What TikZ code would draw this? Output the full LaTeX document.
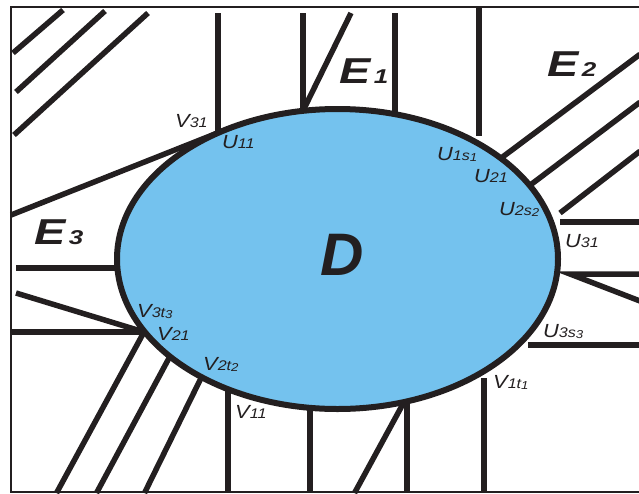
\documentclass[tikz,border=0pt]{standalone}
\usepackage{fontspec}
\newfontfamily\labf{Liberation Sans}[FakeStretch=1.15]
\newfontfamily\bigf{Liberation Sans}[FakeStretch=1.3]
\newfontfamily\dfont{Liberation Sans}
\definecolor{ink}{RGB}{35,31,32}
\definecolor{dblue}{RGB}{116,194,238}
\newcommand{\lsa}[1]{{\fontsize{14}{14}\selectfont #1}}
\newcommand{\lsb}[1]{\raisebox{-1.5pt}{\fontsize{11.5}{11.5}\selectfont #1}}
\newcommand{\lbs}[1]{{\fontsize{20}{20}\selectfont\,#1}}
\tikzset{
  wall/.style={line width=5.5pt, draw=ink},
  framel/.style={line width=2pt, draw=ink},
  region/.style={fill=dblue, draw=ink, line width=6pt},
  lab/.style={anchor=base west, inner sep=0pt, text=ink, font=\labf\itshape\fontsize{19}{19}\selectfont},
  biglab/.style={anchor=base west, inner sep=0pt, text=ink, font=\bigf\bfseries\itshape\fontsize{36}{36}\selectfont},
}
\begin{document}
\begin{tikzpicture}[x=1pt,y=-1pt]
\useasboundingbox (0,0) rectangle (639,493);
% frame
\draw[framel] (640,7) -- (11,7) -- (11,492) -- (640,492);
% named points
\coordinate (tl1a) at (13,53);   \coordinate (tl1b) at (63,10);
\coordinate (tl2a) at (16,92);   \coordinate (tl2b) at (105,11);
\coordinate (tl3a) at (14,135);  \coordinate (tl3b) at (148,13);
\coordinate (tanA) at (11,215);  \coordinate (tanB) at (226.3,129.5);
\coordinate (v1a) at (218,13);   \coordinate (v1b) at (218,132.9);
\coordinate (v2a) at (303,13);   \coordinate (v2b) at (303,110.8);
\coordinate (d2a) at (351,13);
\coordinate (v3a) at (395,13);   \coordinate (v3b) at (395,114.2);
\coordinate (v4a) at (479,7);    \coordinate (v4b) at (479,136);
\coordinate (r1a) at (640,54.3); \coordinate (r1b) at (501.2,158);
\coordinate (r2a) at (640,102.2);\coordinate (r2b) at (529.8,185.4);
\coordinate (r3a) at (640,151.2);\coordinate (r3b) at (560,213);
\coordinate (h1a) at (640,222);  \coordinate (h1b) at (560,222);
\coordinate (h2a) at (640,274);  \coordinate (h2b) at (570,274);
\coordinate (h2c) at (640,301);
\coordinate (h3a) at (640,345);  \coordinate (h3b) at (528,345);
\coordinate (b1a) at (484,378);  \coordinate (b1b) at (484,493);
\coordinate (b2a) at (407,401.4);\coordinate (b2b) at (407,493);
\coordinate (b3a) at (404,402);  \coordinate (b3b) at (354.5,493);
\coordinate (b4a) at (310,407.8);\coordinate (b4b) at (310,493);
\coordinate (b5a) at (228,389.2);\coordinate (b5b) at (228,493);
\coordinate (b6a) at (201.5,377.1);\coordinate (b6b) at (144.5,493);
\coordinate (b7a) at (169.8,356.6);\coordinate (b7b) at (96.5,493);
\coordinate (vx) at (144,332);   \coordinate (b8b) at (56.5,493);
\coordinate (l1a) at (11,332);
\coordinate (l2a) at (16,293);
\coordinate (l3a) at (16,268);   \coordinate (l3b) at (117.4,268);
% walls
\draw[wall] (tl1a) -- (tl1b);
\draw[wall] (tl2a) -- (tl2b);
\draw[wall] (tl3a) -- (tl3b);
\draw[wall] (tanA) -- (tanB);
\draw[wall] (v1a) -- (v1b);
\draw[wall] (v2a) -- (v2b);
\draw[wall] (d2a) -- (v2b);
\draw[wall] (v3a) -- (v3b);
\draw[wall] (v4a) -- (v4b);
\draw[wall] (r1a) -- (r1b);
\draw[wall] (r2a) -- (r2b);
\draw[wall] (r3a) -- (r3b);
\draw[wall] (h1a) -- (h1b);
\draw[wall] (h2a) -- (h2b) -- (h2c);
\draw[wall] (h3a) -- (h3b);
\draw[wall] (b1a) -- (b1b);
\draw[wall] (b2a) -- (b2b);
\draw[wall] (b3a) -- (b3b);
\draw[wall] (b4a) -- (b4b);
\draw[wall] (b5a) -- (b5b);
\draw[wall] (b6a) -- (b6b);
\draw[wall] (b7a) -- (b7b);
\draw[wall] (vx) -- (b8b);
\draw[wall] (l1a) -- (vx);
\draw[wall] (l2a) -- (vx);
\draw[wall] (l3a) -- (l3b);
% domain
\path[region] (337.5,259) ellipse [x radius=220.5pt, y radius=150pt];
% labels
\node[lab] (lV31) at (175,127) {V\lsa{31}};
\node[lab] (lU11) at (222,148) {U\lsa{11}};
\node[lab] (lU1s1) at (437,160) {U\lsa{1s}\lsb{1}};
\node[lab] (lU21) at (474,182) {U\lsa{21}};
\node[lab] (lU2s2) at (499,215) {U\lsa{2s}\lsb{2}};
\node[lab] (lU31) at (565,247) {U\lsa{31}};
\node[lab] (lU3s3) at (543,337) {U\lsa{3s}\lsb{3}};
\node[lab] (lV3t3) at (137,317) {V\lsa{3t}\lsb{3}};
\node[lab] (lV21) at (157,340) {V\lsa{21}};
\node[lab] (lV2t2) at (203,370) {V\lsa{2t}\lsb{2}};
\node[lab] (lV1t1) at (493,388) {V\lsa{1t}\lsb{1}};
\node[lab] (lV11) at (235,418) {V\lsa{11}};
\node[biglab] (lE1) at (339,83) {E\lbs{1}};
\node[biglab] (lE2) at (547,76) {E\lbs{2}};
\node[biglab] (lE3) at (34,244) {E\lbs{3}};
\node[biglab, font=\dfont\bfseries\itshape\fontsize{60}{60}\selectfont] (lD) at (320,275) {D};
\end{tikzpicture}
\end{document}
